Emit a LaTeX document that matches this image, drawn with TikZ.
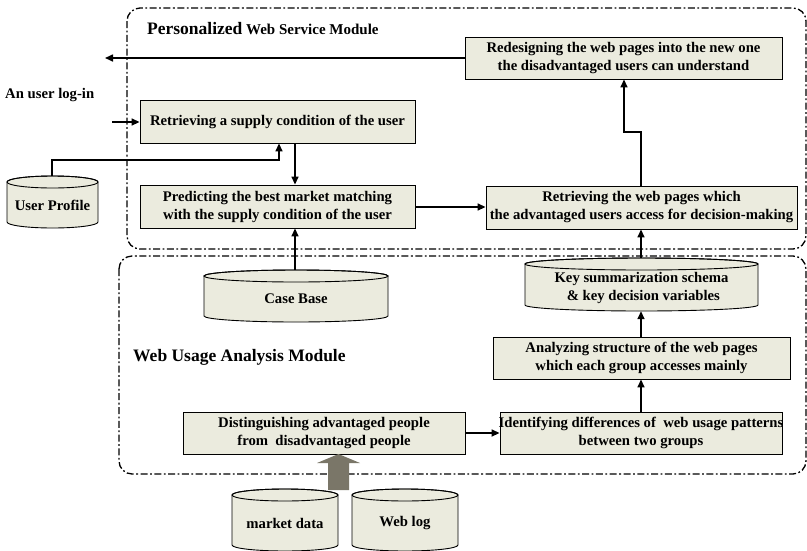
\documentclass[tikz,border=0pt]{standalone}
\usepackage{fontspec}
\setmainfont{Liberation Serif}
\usetikzlibrary{arrows.meta,calc}
\definecolor{boxfill}{RGB}{235,235,222}
\definecolor{bigarrow}{RGB}{122,118,104}
\tikzset{
  every node/.style={font=\fontsize{14.7}{18}\selectfont\bfseries},
  procbox/.style={draw=black, line width=0.9pt, fill=boxfill, align=center, inner sep=0pt},
  module/.style={draw=black, line width=1.3pt, rounded corners=13pt,
    dash pattern=on 7pt off 2.5pt on 1.8pt off 2.5pt},
  conn/.style={draw=black, line width=1.6pt, -{Triangle[length=8pt,width=7pt]}},
  cylbody/.style={draw=black, line width=0.9pt, fill=boxfill},
  bigarr/.style={draw=none, fill=bigarrow}
}
\newcommand\dbcyl[6]{%
  \pgfmathsetmacro\cylcx{(#2+#4)/2}%
  \pgfmathsetmacro\cylrx{(#4-#2)/2}%
  \path[cylbody] (#2,#3+6) -- (#2,#5-6)
     arc[start angle=180, end angle=0, x radius=\cylrx, y radius=6]
     -- (#4,#3+6)
     arc[start angle=0, end angle=-180, x radius=\cylrx, y radius=6] -- cycle;
  \draw[black, line width=0.9pt] (\cylcx,#3+6) ellipse [x radius=\cylrx, y radius=6];
  \node[inner sep=0pt, minimum width=#4pt-#2pt, minimum height=#5pt-#3pt] (#1) at (\cylcx,{(#3+#5)/2}) {};
  \node[align=center] at ($(#1.center)+(0,3)$) {#6};
}
\begin{document}
\begin{tikzpicture}[x=1pt,y=-1pt]
\useasboundingbox (0,0) rectangle (807,550);

% modules
\draw[module] (127,8) rectangle (806,249);
\draw[module] (119,256) rectangle (806,474);

% titles
\node[anchor=base west, inner sep=0pt] (ptitle) at (147,34)
  {{\fontsize{17.5}{18}\selectfont Personalized} {\fontsize{15}{16}\selectfont Web Service Module}};
\node[anchor=base west, inner sep=0pt, font=\fontsize{17.5}{20}\selectfont\bfseries] (wtitle) at (133,361) {Web Usage Analysis Module};
\node[anchor=base west, inner sep=0pt] (login) at (5,98) {An user log-in};

% boxes
\node[procbox, minimum width=275pt, minimum height=43pt] (rsup) at (277.5,121.5) {Retrieving a supply condition of the user};
\node[procbox, minimum width=275pt, minimum height=43pt] (pred) at (277.5,206.5) {Predicting the best market matching\\with the supply condition of the user};
\node[procbox, minimum width=311pt, minimum height=43pt] (rweb) at (641.5,207.5) {Retrieving the web pages which\\the advantaged users access for decision-making};
\node[procbox, minimum width=317pt, minimum height=42pt] (redes) at (623.5,58) {Redesigning the web pages into the new one\\the disadvantaged users can understand};
\node[procbox, minimum width=297pt, minimum height=42pt] (anal) at (641.5,358) {Analyzing structure of the web pages\\which each group accesses mainly};
\node[procbox, minimum width=282pt, minimum height=42pt] (ident) at (641,433) {};
\node[align=center] at (ident.center) {Identifying differences of~~web usage patterns\\between two groups};
\node[procbox, minimum width=282pt, minimum height=42pt] (dist) at (324,433) {Distinguishing advantaged people\\from~~disadvantaged people};

% cylinders
\dbcyl{uprof}{7}{176}{98}{228}{User Profile}
\dbcyl{cbase}{204}{270}{388}{322}{Case Base}
\dbcyl{keys}{525}{258}{758}{311}{Key summarization schema\\\ \& key decision variables}
\dbcyl{mkt}{232}{489}{338}{551}{market data}
\dbcyl{wlog}{352}{489}{458}{551}{Web log}

% connectors
\coordinate (outend) at (105,58);
\draw[conn] (redes.west) -- (outend);
\coordinate (loginstart) at (112,122);
\draw[conn] (loginstart) -- (rsup.west |- loginstart);
\coordinate (upbend) at (52,160);
\draw[conn] (uprof.north -| upbend) -- (upbend) -- (279,160) -- (rsup.south -| 279,0);
\draw[conn] (rsup.south -| 295,0) -- (pred.north -| 295,0);
\draw[conn] (cbase.north -| 295,0) -- (pred.south -| 295,0);
\draw[conn] (pred.east |- 0,207) -- (rweb.west |- 0,207);
\coordinate (rb1) at (641,132);
\coordinate (rb2) at (624,132);
\draw[conn] (rweb.north -| rb1) -- (rb1) -- (rb2) -- (redes.south -| rb2);
\draw[conn] (keys.north -| 641,0) -- (rweb.south -| 641,0);
\draw[conn] (anal.north -| 641,0) -- (keys.south -| 641,0);
\draw[conn] (ident.north -| 641,0) -- (anal.south -| 641,0);
\draw[conn] (dist.east) -- (ident.west);

% big grey arrow
\fill[bigarr] (328,490) -- (328,463) -- (317,463) -- (338.5,454) -- (360,463) -- (349,463) -- (349,490) -- cycle;
\end{tikzpicture}
\end{document}
